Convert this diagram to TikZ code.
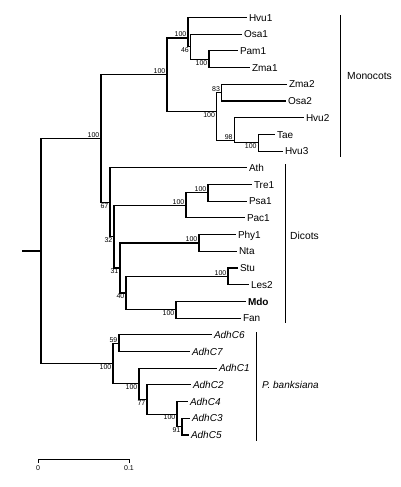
\documentclass[tikz,border=0pt]{standalone}
\usepackage{fontspec}
\setmainfont{Liberation Sans}
\begin{document}
\begin{tikzpicture}[x=1pt,y=-1pt,
  edge/.style={line width=1.15pt, line join=miter},
  leaf/.style={anchor=west, inner xsep=2pt, inner ysep=0pt, outer sep=0pt,
    font=\fontsize{10}{12}\selectfont, text height=7.2pt, text depth=0pt},
  ital/.style={leaf, font=\fontsize{10}{12}\selectfont\itshape},
  bs/.style={font=\fontsize{7}{8}\selectfont, inner xsep=1.5pt, inner ysep=0.8pt},
  bsa/.style={bs, anchor=south east},
  bsb/.style={bs, anchor=north east},
  grp/.style={anchor=west, inner sep=0pt, font=\fontsize{10.3}{12}\selectfont},
  sc/.style={font=\fontsize{7}{8}\selectfont, inner sep=0pt}]
\useasboundingbox (0,0) rectangle (400,487);
% leaves
\node[leaf] (hvu1) at (247,17.5) {Hvu1};
\node[leaf] (osa1) at (242,34.2) {Osa1};
\node[leaf] (pam1) at (238,50.9) {Pam1};
\node[leaf] (zma1) at (250,67.6) {Zma1};
\node[leaf] (zma2) at (287,84.3) {Zma2};
\node[leaf] (osa2) at (286,101.0) {Osa2};
\node[leaf] (hvu2) at (304,117.7) {Hvu2};
\node[leaf] (tae)  at (275,134.4) {Tae};
\node[leaf] (hvu3) at (283,151.1) {Hvu3};
\node[leaf] (ath)  at (247,167.8) {Ath};
\node[leaf] (tre1) at (252,184.5) {Tre1};
\node[leaf] (psa1) at (247,201.2) {Psa1};
\node[leaf] (pac1) at (245,217.9) {Pac1};
\node[leaf] (phy1) at (236,234.6) {Phy1};
\node[leaf] (nta)  at (237,251.3) {Nta};
\node[leaf] (stu)  at (238,268.0) {Stu};
\node[leaf] (les2) at (249,284.7) {Les2};
\node[leaf] (mdo)  at (246,301.4) {\bfseries Mdo};
\node[leaf] (fan)  at (241,318.1) {Fan};
\node[ital] (c6) at (212,334.8) {AdhC6};
\node[ital] (c7) at (190,351.5) {AdhC7};
\node[ital] (c1) at (217,368.2) {AdhC1};
\node[ital] (c2) at (191,384.9) {AdhC2};
\node[ital] (c4) at (188,401.6) {AdhC4};
\node[ital] (c3) at (190,418.3) {AdhC3};
\node[ital] (c5) at (189,435.0) {AdhC5};
% internal nodes
\coordinate (pz)   at (209,59.25);
\coordinate (n46)  at (190.5,46.7);
\coordinate (n100a) at (188,38);
\coordinate (n83)  at (221.7,92.6);
\coordinate (th)   at (258.3,142.75);
\coordinate (n98)  at (234.3,140.7);
\coordinate (n100b) at (216.7,111.4);
\coordinate (mono) at (167,74.7);
\coordinate (tp)   at (208,192.85);
\coordinate (tpp)  at (186,205.4);
\coordinate (pn)   at (199,242.95);
\coordinate (sl)   at (228,276.35);
\coordinate (mf)   at (176,309.75);
\coordinate (n40)  at (126,293.05);
\coordinate (n31)  at (120,268);
\coordinate (n32)  at (114,236.7);
\coordinate (n67)  at (110,202.25);
\coordinate (top)  at (101,138.5);
\coordinate (c35)  at (182,426.65);
\coordinate (n100c) at (177,414.1);
\coordinate (n77)  at (147,399.5);
\coordinate (n139) at (139,383.85);
\coordinate (n59)  at (119,343.15);
\coordinate (pin)  at (113,363.5);
\coordinate (root) at (41,251);
\coordinate (stub) at (22,251);
% edges
\draw[edge] (stub) -- (root);
\draw[edge] (root) |- (top);
\draw[edge] (root) |- (pin);
\draw[edge] (top) |- (mono);
\draw[edge] (top) |- (n67);
\draw[edge] (mono) |- (n100a);
\draw[edge] (mono) |- (n100b);
\draw[edge] (n100a) |- (hvu1);
\draw[edge] (n100a) |- (n46);
\draw[edge] (n46) |- (osa1);
\draw[edge] (n46) |- (pz);
\draw[edge] (pz) |- (pam1);
\draw[edge] (pz) |- (zma1);
\draw[edge] (n100b) |- (n83);
\draw[edge] (n100b) |- (n98);
\draw[edge] (n83) |- (zma2);
\draw[edge] (n83) |- (osa2);
\draw[edge] (n98) |- (hvu2);
\draw[edge] (n98) |- (th);
\draw[edge] (th) |- (tae);
\draw[edge] (th) |- (hvu3);
\draw[edge] (n67) |- (ath);
\draw[edge] (n67) |- (n32);
\draw[edge] (n32) |- (tpp);
\draw[edge] (n32) |- (n31);
\draw[edge] (tpp) |- (tp);
\draw[edge] (tpp) |- (pac1);
\draw[edge] (tp) |- (tre1);
\draw[edge] (tp) |- (psa1);
\draw[edge] (n31) |- (pn);
\draw[edge] (n31) |- (n40);
\draw[edge] (pn) |- (phy1);
\draw[edge] (pn) |- (nta);
\draw[edge] (n40) |- (sl);
\draw[edge] (n40) |- (mf);
\draw[edge] (sl) |- (stu);
\draw[edge] (sl) |- (les2);
\draw[edge] (mf) |- (mdo);
\draw[edge] (mf) |- (fan);
\draw[edge] (pin) |- (n59);
\draw[edge] (pin) |- (n139);
\draw[edge] (n59) |- (c6);
\draw[edge] (n59) |- (c7);
\draw[edge] (n139) |- (c1);
\draw[edge] (n139) |- (n77);
\draw[edge] (n77) |- (c2);
\draw[edge] (n77) |- (n100c);
\draw[edge] (n100c) |- (c4);
\draw[edge] (n100c) |- (c35);
\draw[edge] (c35) |- (c3);
\draw[edge] (c35) |- (c5);
% bootstrap values
\node[bsa] (b-top) at (top) {100};
\node[bsa] (b-mono) at (mono) {100};
\node[bsa] (b-100a) at (n100a) {100};
\node[bsb] (b-46) at (n46) {46};
\node[bsb] (b-pz) at (pz) {100};
\node[bsa] (b-83) at (n83) {83};
\node[bsb] (b-100b) at (n100b) {100};
\node[bsa] (b-98) at (n98) {98};
\node[bsb] (b-th) at (th) {100};
\node[bsb] (b-67) at (n67) {67};
\node[bsa] (b-tpp) at (tpp) {100};
\node[bsa] (b-tp) at (tp) {100};
\node[bsb] (b-32) at (n32) {32};
\node[bsa] (b-pn) at (pn) {100};
\node[bsb] (b-31) at (n31) {31};
\node[bsa] (b-sl) at (sl) {100};
\node[bsb] (b-40) at (n40) {40};
\node[bsb] (b-mf) at (mf) {100};
\node[bsb] (b-pin) at (pin) {100};
\node[bsa] (b-59) at (n59) {59};
\node[bsb] (b-139) at (n139) {100};
\node[bsb] (b-77) at (n77) {77};
\node[bsb] (b-100c) at (n100c) {100};
\node[bsb] (b-91) at (c35) {91};
% group brackets
\coordinate (m1) at (340.7,15);  \coordinate (m2) at (340.7,157);
\coordinate (d1) at (285,164);   \coordinate (d2) at (285,323);
\coordinate (p1) at (256,332);   \coordinate (p2) at (256,441);
\draw[line width=1pt] (m1) -- (m2);
\draw[line width=1pt] (d1) -- (d2);
\draw[line width=1pt] (p1) -- (p2);
\node[grp] (gm) at (347,76) {Monocots};
\node[grp] (gd) at (290,236) {Dicots};
\node[grp, font=\fontsize{10}{12}\selectfont\itshape] (gp) at (262,385) {P. banksiana};
% scale bar
\coordinate (s0) at (38,459);
\coordinate (s1) at (129,459);
\coordinate (s0d) at (38,462.5);
\coordinate (s1d) at (129,462.5);
\draw[line width=1pt] (s0d) -- (s0) -- (s1) -- (s1d);
\node[sc] (l0) at (38,468.5) {0};
\node[sc] (l1) at (129,468.5) {0.1};
\end{tikzpicture}
\end{document}
